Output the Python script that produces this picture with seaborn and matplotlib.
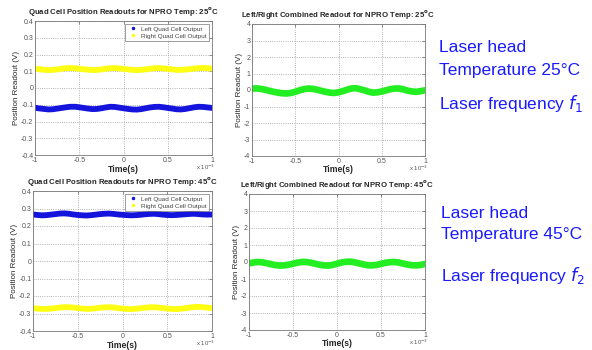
import numpy as np
import pandas as pd
import matplotlib
matplotlib.use("Agg")
import matplotlib.pyplot as plt
from matplotlib.lines import Line2D
import seaborn as sns

# time axis in units of 1e-3 s
time_ms = [-1.00, -0.95, -0.90, -0.85, -0.80, -0.75, -0.70, -0.65, -0.60, -0.55,
           -0.50, -0.45, -0.40, -0.35, -0.30, -0.25, -0.20, -0.15, -0.10, -0.05,
           0.00, 0.05, 0.10, 0.15, 0.20, 0.25, 0.30, 0.35, 0.40, 0.45,
           0.50, 0.55, 0.60, 0.65, 0.70, 0.75, 0.80, 0.85, 0.90, 0.95, 1.00]

# 25 C readouts (V)
left_25 = [-0.118, -0.122, -0.125, -0.128, -0.127, -0.123, -0.119, -0.115, -0.112, -0.112,
           -0.115, -0.119, -0.123, -0.126, -0.125, -0.121, -0.116, -0.112, -0.113, -0.117,
           -0.121, -0.125, -0.128, -0.129, -0.126, -0.121, -0.116, -0.113, -0.112, -0.115,
           -0.119, -0.123, -0.127, -0.128, -0.125, -0.120, -0.115, -0.112, -0.113, -0.116, -0.119]
right_25 = [0.114, 0.112, 0.109, 0.107, 0.108, 0.111, 0.115, 0.118, 0.119, 0.118,
            0.115, 0.112, 0.109, 0.107, 0.108, 0.111, 0.115, 0.118, 0.119, 0.117,
            0.114, 0.111, 0.108, 0.107, 0.108, 0.111, 0.115, 0.118, 0.119, 0.117,
            0.114, 0.111, 0.108, 0.108, 0.110, 0.113, 0.116, 0.119, 0.120, 0.118, 0.116]
combined_25 = [0.08, 0.10, 0.07, 0.02, -0.05, -0.11, -0.16, -0.20, -0.21, -0.18,
               -0.11, -0.02, 0.05, 0.09, 0.07, 0.02, -0.05, -0.11, -0.16, -0.18,
               -0.14, -0.07, 0.02, 0.09, 0.11, 0.05, -0.02, -0.11, -0.16, -0.14,
               -0.09, -0.02, 0.05, 0.09, 0.09, 0.04, -0.04, -0.09, -0.11, -0.07, -0.02]

# 45 C readouts (V)
left_45 = [0.266, 0.263, 0.261, 0.262, 0.265, 0.268, 0.271, 0.272, 0.270, 0.266,
           0.263, 0.261, 0.260, 0.262, 0.265, 0.268, 0.270, 0.271, 0.269, 0.266,
           0.264, 0.262, 0.261, 0.262, 0.264, 0.267, 0.269, 0.270, 0.268, 0.265,
           0.263, 0.262, 0.263, 0.265, 0.267, 0.269, 0.270, 0.268, 0.266, 0.265, 0.266]
right_45 = [-0.270, -0.272, -0.274, -0.274, -0.272, -0.269, -0.266, -0.264, -0.264, -0.266,
            -0.269, -0.272, -0.274, -0.273, -0.270, -0.267, -0.265, -0.264, -0.266, -0.269,
            -0.272, -0.274, -0.275, -0.273, -0.270, -0.267, -0.265, -0.264, -0.266, -0.269,
            -0.272, -0.274, -0.275, -0.273, -0.270, -0.266, -0.263, -0.262, -0.264, -0.267, -0.269]
combined_45 = [-0.08, -0.03, 0.00, -0.02, -0.07, -0.13, -0.18, -0.21, -0.20, -0.16,
               -0.10, -0.04, 0.00, 0.00, -0.04, -0.10, -0.16, -0.20, -0.21, -0.17,
               -0.10, -0.03, 0.01, 0.02, -0.02, -0.08, -0.14, -0.19, -0.20, -0.17,
               -0.11, -0.05, -0.01, 0.00, -0.03, -0.09, -0.15, -0.19, -0.20, -0.17, -0.12]

quad_ticks = [-0.4, -0.3, -0.2, -0.1, 0, 0.1, 0.2, 0.3, 0.4]
quad_labels = ["-0.4", "-0.3", "-0.2", "-0.1", "0", "0.1", "0.2", "0.3", "0.4"]
comb_ticks = [-4, -3, -2, -1, 0, 1, 2, 3, 4]
time_ticks = [-1, -0.5, 0, 0.5, 1]
time_labels = ["-1", "-0.5", "0", "0.5", "1"]

BLUE = "#1414dc"
YELLOW = "#ffff14"
GREEN = "#22ee22"

sns.set_style("white")
plt.rcParams["font.family"] = ["Liberation Sans", "DejaVu Sans"]

W, H = 592, 350


def style_axes(ax, yticks, ylabels, ylim, title, px_w, px_h):
    ax.set_xlim(-1, 1)
    ax.set_ylim(*ylim)
    ax.set_xticks(time_ticks)
    ax.set_xticklabels(time_labels)
    ax.set_yticks(yticks)
    ax.set_yticklabels(ylabels)
    ax.tick_params(direction="in", length=2, width=0.5, labelsize=5,
                   labelcolor="#555555", color="#666666", pad=1.2,
                   top=True, right=True)
    ax.grid(True, linestyle=":", linewidth=0.6, color="#9a9a9a")
    for sp in ax.spines.values():
        sp.set_color("#777777")
        sp.set_linewidth(0.6)
    ax.set_title(title, fontsize=5.6, fontweight="bold", pad=4.8)
    ax.set_ylabel("Position Readout (V)", fontsize=5.8, labelpad=1)
    ax.set_xlabel("Time(s)", fontsize=6.2, fontweight="bold", labelpad=0.6)
    # exponent note below the right end of the time axis
    ax.text(1 - 6 / px_w, -12 / px_h, r"x 10$^{-3}$", transform=ax.transAxes,
            fontsize=4.3, color="#555555", ha="center", va="center")


def quad_panel(ax, left, right, title, px_w, px_h):
    df = pd.DataFrame({"t": time_ms, "left": left, "right": right})
    sns.lineplot(data=df, x="t", y="left", ax=ax, color=BLUE, linewidth=4.2)
    sns.lineplot(data=df, x="t", y="right", ax=ax, color=YELLOW, linewidth=4.2)
    style_axes(ax, quad_ticks, quad_labels, (-0.4, 0.4), title, px_w, px_h)
    handles = [Line2D([], [], marker=".", linestyle="none", color=BLUE, markersize=3),
               Line2D([], [], marker=".", linestyle="none", color=YELLOW, markersize=3)]
    leg = ax.legend(handles, ["Left Quad Cell Output", "Right Quad Cell Output"],
                    loc="upper right", fontsize=4.6, frameon=True, fancybox=False,
                    borderpad=0.4, handlelength=1.5, handletextpad=0.6,
                    labelspacing=0.25, borderaxespad=0.4)
    leg.get_frame().set_edgecolor("#555555")
    leg.get_frame().set_linewidth(0.5)
    for txt in leg.get_texts():
        txt.set_color("#444444")


def combined_panel(ax, values, title, px_w, px_h):
    df = pd.DataFrame({"t": time_ms, "v": values})
    sns.lineplot(data=df, x="t", y="v", ax=ax, color=GREEN, linewidth=4.8)
    style_axes(ax, comb_ticks, [str(v) for v in comb_ticks], (-4, 4), title, px_w, px_h)


fig = plt.figure(figsize=(W / 100, H / 100), dpi=100)


def add_ax(left, top, right, bottom):
    ax = fig.add_axes([left / W, 1 - bottom / H, (right - left) / W, (bottom - top) / H])
    return ax, right - left, bottom - top


ax_tl, w_tl, h_tl = add_ax(35, 21, 212, 155)
ax_tr, w_tr, h_tr = add_ax(252, 24, 425, 156)
ax_bl, w_bl, h_bl = add_ax(33, 191, 212, 331)
ax_br, w_br, h_br = add_ax(249, 194, 425, 330)

quad_panel(ax_tl, left_25, right_25,
           r"Quad Cell Position Readouts for NPRO Temp: 25$^{\mathbf{o}}$C", w_tl, h_tl)
combined_panel(ax_tr, combined_25,
               r"Left/Right Combined Readout for NPRO Temp: 25$^{\mathbf{o}}$C", w_tr, h_tr)
quad_panel(ax_bl, left_45, right_45,
           r"Quad Cell Position Readouts for NPRO Temp: 45$^{\mathbf{o}}$C", w_bl, h_bl)
combined_panel(ax_br, combined_45,
               r"Left/Right Combined Readout for NPRO Temp: 45$^{\mathbf{o}}$C", w_br, h_br)

# annotation text on the right
note_kw = dict(fontsize=12.5, color="#1a1aff", ha="left", va="center")
fig.text(439 / W, 1 - 48 / H, "Laser head", **note_kw)
fig.text(439 / W, 1 - 70 / H, "Temperature 25\u00b0C", **note_kw)
fig.text(439 / W, 1 - 104 / H, r"Laser frequency $\mathit{f}_1$", **note_kw)
fig.text(441 / W, 1 - 213 / H, "Laser head", **note_kw)
fig.text(441 / W, 1 - 235 / H, "Temperature 45\u00b0C", **note_kw)
fig.text(441 / W, 1 - 275 / H, r"Laser frequency $\mathit{f}_2$", **note_kw)

fig.savefig("out.png", dpi=100)
